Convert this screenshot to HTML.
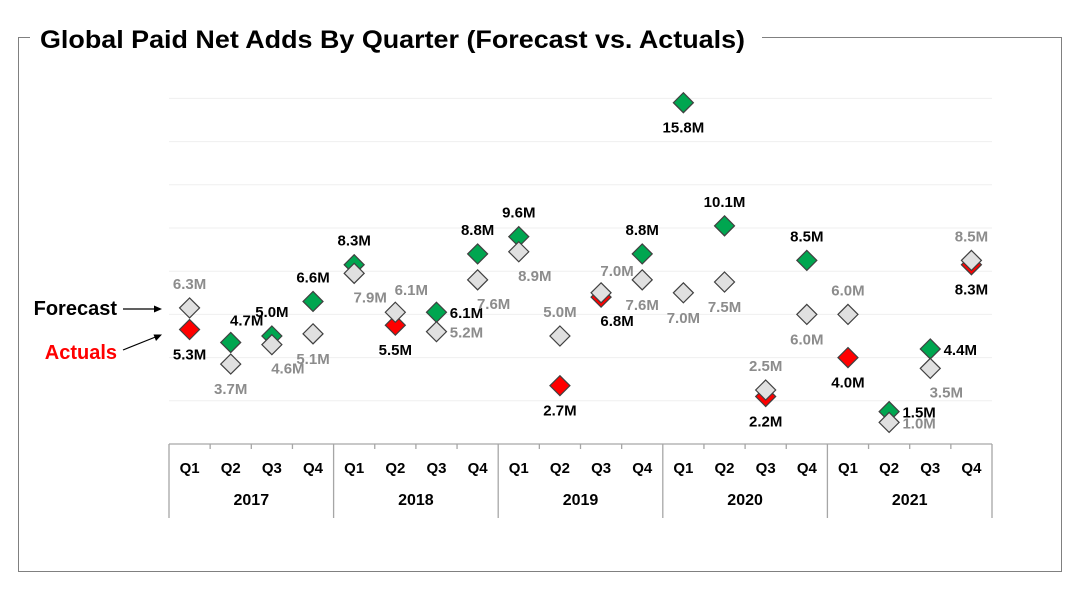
<!DOCTYPE html>
<html><head><meta charset="utf-8"><style>
body{margin:0;background:#fff;width:1080px;height:586px;overflow:hidden;font-family:"Liberation Sans",sans-serif}
</style></head><body>
<svg id="chart" width="1080" height="586" xmlns="http://www.w3.org/2000/svg" font-family="Liberation Sans, sans-serif">
<rect x="18.5" y="37.5" width="1043" height="534" fill="none" stroke="#808080" stroke-width="1"/>
<rect x="30" y="25" width="732" height="26" fill="#fff"/>
<text x="40" y="48" font-size="25" font-weight="bold" fill="#000" textLength="705" lengthAdjust="spacingAndGlyphs">Global Paid Net Adds By Quarter (Forecast vs. Actuals)</text>
<g id="grid"></g>
<g id="axis"></g>
<g id="marks"></g>
<g>
<text x="117" y="315" text-anchor="end" font-size="20" font-weight="bold" fill="#000">Forecast</text>
<line x1="123" y1="309" x2="158" y2="309" stroke="#000" stroke-width="1.2"/>
<polygon points="162,309 154,305.5 154,312.5" fill="#000"/>
<text x="117" y="359" text-anchor="end" font-size="20" font-weight="bold" fill="#ff0000">Actuals</text>
<line x1="123" y1="350" x2="158" y2="336" stroke="#000" stroke-width="1.2"/>
<polygon points="162,334.5 153.5,334.5 156,341" fill="#000"/>
</g>
</svg>
<script>
const years = ["2017","2018","2019","2020","2021"];
const quarters = ["Q1","Q2","Q3","Q4"];
const forecast = [6.3,3.7,4.6,5.1, 7.9,6.1,5.2,7.6, 8.9,5.0,7.0,7.6, 7.0,7.5,2.5,6.0, 6.0,1.0,3.5,8.5];
const actuals  = [5.3,4.7,5.0,6.6, 8.3,5.5,6.1,8.8, 9.6,2.7,6.8,8.8, 15.8,10.1,2.2,8.5, 4.0,1.5,4.4,8.3];
const forecastLabelPos = ["a","b","br","b", "br","ar","r","br", "br","a","ar","b", "b","b","a","b", "a","r","br","a"];
const actualLabelPos   = ["b","ar","a","a", "a","b","r","a", "a","b","br","a", "b","a","b","a", "b","r","r","b"];
const yTicks = [2,4,6,8,10,12,14,16];

const NS="http://www.w3.org/2000/svg";
const x0=169, x1=992, yZero=444, pxPerUnit=21.6;
const n=forecast.length, bw=(x1-x0)/n;
const xs=i=>x0+bw*(i+0.5);
const ys=v=>yZero-v*pxPerUnit;
function mk(tag,attrs,parent){const e=document.createElementNS(NS,tag);for(const k in attrs)e.setAttribute(k,attrs[k]);parent.appendChild(e);return e;}
const grid=document.getElementById('grid'), axis=document.getElementById('axis'), marks=document.getElementById('marks');

yTicks.forEach(t=>{const l=mk('line',{x1:x0,x2:x1,y1:ys(t),y2:ys(t),stroke:'#efefef','stroke-width':1},grid);

});

const ax=mk('line',{x1:x0,x2:x1,y1:yZero,y2:yZero,stroke:'#a6a6a6','stroke-width':1.3},axis);


for(let i=0;i<=n;i++){
  const x=x0+bw*i; const major=i%4===0;
  const l=mk('line',{x1:x,x2:x,y1:yZero,y2:major?518:yZero+5,stroke:'#a6a6a6','stroke-width':1.3},axis);
  
  
}
for(let i=0;i<n;i++){
  const t=mk('text',{x:xs(i),y:473,'text-anchor':'middle','font-size':15,'font-weight':'bold',fill:'#000'},axis);
  t.textContent=quarters[i%4];
  
  
}
years.forEach((y,j)=>{
  const t=mk('text',{x:x0+bw*(4*j+2),y:505,'text-anchor':'middle','font-size':16,'font-weight':'bold',fill:'#000'},axis);
  t.textContent=y;
  
  
});

const off={a:[0,-19],b:[0,30],r:[30,6],ar:[16,-17],br:[16,29]};
function diamond(cx,cy,fill,name){
  const d=10;
  const p=mk('polygon',{points:`${cx},${cy-d} ${cx+d},${cy} ${cx},${cy+d} ${cx-d},${cy}`,fill:fill,stroke:'#404040','stroke-width':1.2},marks);
  
  
}
function label(cx,cy,v,pos,color,name){
  const o=off[pos];
  const t=mk('text',{x:cx+o[0],y:cy+o[1],'text-anchor':'middle','font-size':15,'font-weight':'bold',fill:color},marks);
  t.textContent=v.toFixed(1)+'M';
  
  
}
for(let i=0;i<n;i++){
  const beat=actuals[i]>=forecast[i];
  diamond(xs(i),ys(actuals[i]),beat?'#00a650':'#ff0000','actual-point');
}
for(let i=0;i<n;i++) diamond(xs(i),ys(forecast[i]),'#e0e0e0','forecast-point');
for(let i=0;i<n;i++){
  label(xs(i),ys(actuals[i]),actuals[i],actualLabelPos[i],'#000','actual-label');
  label(xs(i),ys(forecast[i]),forecast[i],forecastLabelPos[i],'#8c8c8c','forecast-label');
}
</script>
</body></html>
